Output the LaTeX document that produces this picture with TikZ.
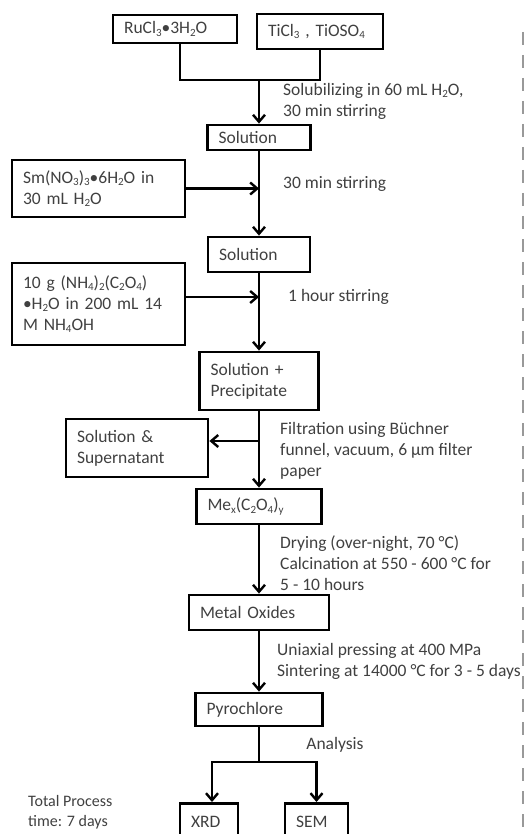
\documentclass[tikz,border=0pt]{standalone}
\usepackage{fontspec}
\setmainfont{Carlito}
\usetikzlibrary{arrows.meta}
\newcommand{\sbs}[1]{\raisebox{-0.3ex}{\fontsize{11}{11}\selectfont #1}}
\begin{document}
\begin{tikzpicture}[x=1pt,y=-1pt,
  every node/.style={font=\fontsize{17.5}{21}\selectfont, text=black!75},
  stepbox/.style={draw=black, line width=2.8pt, rectangle, inner xsep=11pt, inner ysep=0pt, align=left, anchor=center},
  lbl/.style={anchor=west, inner sep=0pt, align=left},
  conn/.style={line width=2.4pt, draw=black},
  arr/.style={conn, -{Straight Barb[length=7pt,width=12pt,line width=2.4pt]}}
]
\useasboundingbox (0,0) rectangle (526,834);
% boxes
\node[stepbox, text width=102pt, minimum height=28pt] (ru) at (175,29) {RuCl\sbs{3}\textbullet3H\sbs{2}O};
\node[stepbox, text width=104pt, minimum height=35pt] (ti) at (320,31.5) {TiCl\sbs{3} , TiOSO\sbs{4}};
\node[stepbox, text width=81pt, minimum height=25pt] (s1) at (259,137.5) {Solution};
\node[stepbox, text width=151pt, minimum height=57pt] (sm) at (98.5,188.5) {Sm(NO\sbs{3})\sbs{3}\textbullet6H\sbs{2}O in\\30 mL H\sbs{2}O};
\node[stepbox, text width=80pt, minimum height=35pt] (s2) at (259,254.5) {Solution};
\node[stepbox, text width=151pt, minimum height=82pt] (nh) at (98.5,304) {10 g (NH\sbs{4})\sbs{2}(C\sbs{2}O\sbs{4})\\\textbullet H\sbs{2}O in 200 mL 14\\M NH\sbs{4}OH};
\node[stepbox, text width=97pt, minimum height=58pt] (sp) at (259,381) {Solution +\\Precipitate};
\node[stepbox, text width=120pt, minimum height=58pt] (su) at (137,448) {Solution \&\\Supernatant};
\node[stepbox, text width=103pt, minimum height=35pt] (me) at (259,506.5) {Me\sbs{x}(C\sbs{2}O\sbs{4})\sbs{y}};
\node[stepbox, text width=118pt, minimum height=35pt] (mo) at (259,612.5) {Metal Oxides};
\node[stepbox, text width=105pt, minimum height=33pt] (py) at (259,709.5) {Pyrochlore};
\node[stepbox, text width=36pt, minimum height=36pt, anchor=north] (xrd) at (209,802) {XRD};
\node[stepbox, text width=41pt, minimum height=36pt, anchor=north] (sem) at (316.5,802) {SEM};
% junctions
\coordinate (j1) at (259,80);
\coordinate (j2) at (259,441);
\coordinate (j3) at (259,762);
% connectors
\draw[conn] ([xshift=5pt]ru.south) |- (j1);
\draw[conn] (ti.south) |- (j1);
\draw[arr] (j1) -- (s1.north);
\draw[arr] (s1.south) -- (s2.north);
\draw[arr] (sm.east) -- (sm.east -| s1.south);
\draw[arr] (s2.south) -- (sp.north);
\draw[arr] ([yshift=7pt]nh.east) -- ([yshift=7pt]nh.east -| s2.south);
\draw[arr] (sp.south) -- (me.north);
\draw[arr] (j2) -- (j2 -| su.east);
\draw[arr] (me.south) -- (mo.north);
\draw[arr] (mo.south) -- (py.north);
\draw[conn] (py.south) -- (j3);
\draw[arr] (j3) -| ([xshift=3pt]xrd.north);
\draw[arr] (j3) -| (sem.north);
% labels
\node[lbl] (l1) at (283,101) {Solubilizing in 60 mL H\sbs{2}O,\\30 min stirring};
\node[lbl] (l2) at (283,184) {30 min stirring};
\node[lbl] (l3) at (288,297) {1 hour stirring};
\node[lbl] (l4) at (280,451) {Filtration using Büchner\\funnel, vacuum, 6 µm filter\\paper};
\node[lbl] (l5) at (280,563) {Drying (over-night, 70 °C)\\Calcination at 550 - 600 °C for\\5 - 10 hours};
\node[lbl] (l6) at (277,661) {Uniaxial pressing at 400 MPa\\Sintering at 14000 °C for 3 - 5 days};
\node[lbl, anchor=center] (l7) at (335,745) {Analysis};
\node[lbl, font=\fontsize{16}{20}\selectfont] (l8) at (28,812) {Total Process\\time: 7 days};
% dashed margin line
\coordinate (dt) at (523,32);
\coordinate (db) at (523,834);
\draw[black!40, line width=1.6pt, dash pattern=on 13pt off 10pt] (dt) -- (db);
\end{tikzpicture}
\end{document}
